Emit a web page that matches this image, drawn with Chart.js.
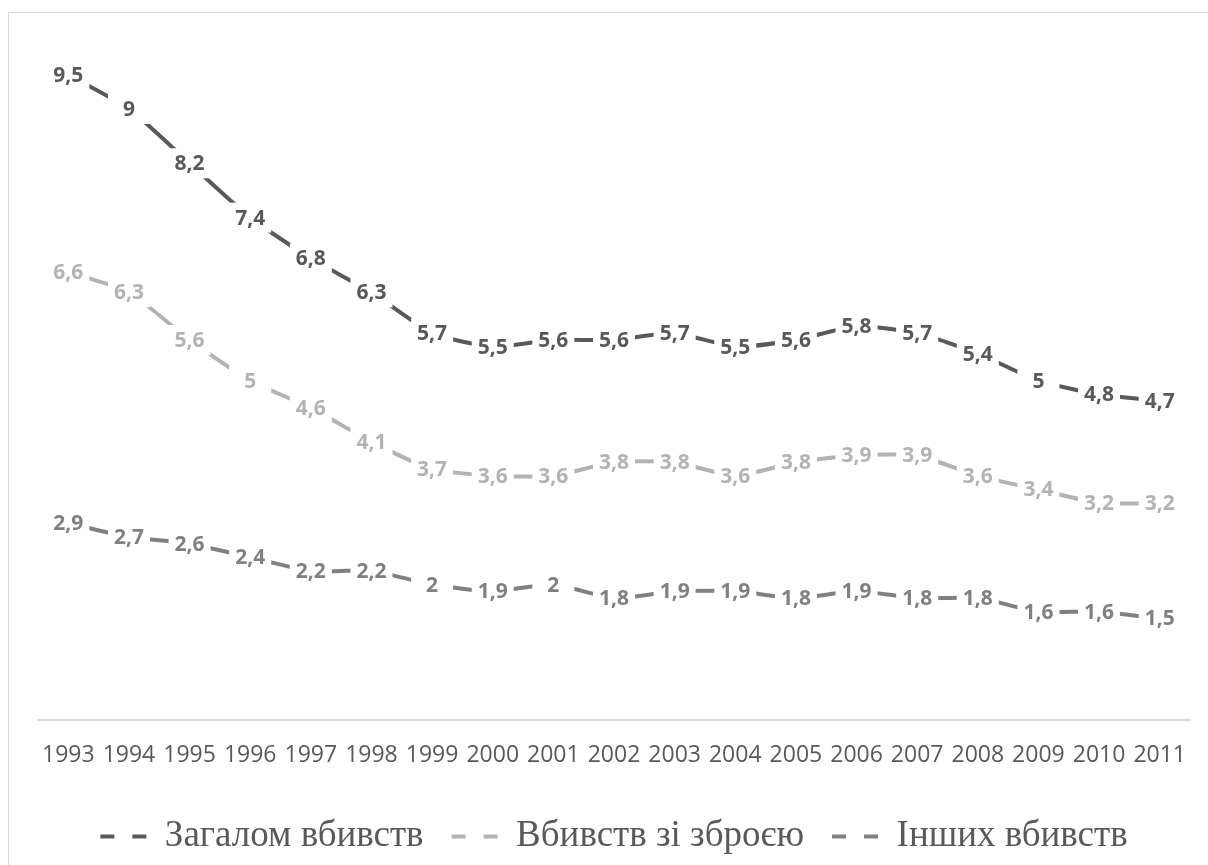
<!DOCTYPE html>
<html>
<head>
<meta charset="utf-8">
<script src="https://cdn.jsdelivr.net/npm/chart.js@4/dist/chart.umd.min.js"></script>
<style>
  html, body { margin: 0; padding: 0; background: #fff; overflow: hidden; }
  #wrap { position: absolute; left: 0; top: 0; width: 1208px; height: 865px; }
  #frame { position: absolute; left: 8px; top: 12px; width: 1300px; height: 1000px; border: 1px solid #d9d9d9; box-sizing: border-box; }
  canvas { position: absolute; left: 0; top: 0; }
</style>
</head>
<body>
<div id="wrap">
  <div id="frame"></div>
  <canvas id="c" width="1208" height="865"></canvas>
</div>
<script>
const years = ['1993','1994','1995','1996','1997','1998','1999','2000','2001','2002','2003','2004','2005','2006','2007','2008','2009','2010','2011'];
const totalKillings = [9.5, 9, 8.2, 7.4, 6.8, 6.3, 5.7, 5.5, 5.6, 5.6, 5.7, 5.5, 5.6, 5.8, 5.7, 5.4, 5, 4.8, 4.7];
const firearmKillings = [6.6, 6.3, 5.6, 5, 4.6, 4.1, 3.7, 3.6, 3.6, 3.8, 3.8, 3.6, 3.8, 3.9, 3.9, 3.6, 3.4, 3.2, 3.2];
const otherKillings = [2.9, 2.7, 2.6, 2.4, 2.2, 2.2, 2, 1.9, 2, 1.8, 1.9, 1.9, 1.8, 1.9, 1.8, 1.8, 1.6, 1.6, 1.5];
const seriesNames = ['Загалом вбивств', 'Вбивств зі зброєю', 'Інших вбивств'];

const colors = ['#595959', '#b3b3b3', '#808080'];

const labelPlugin = {
  id: 'boxLabels',
  afterDatasetsDraw(chart) {
    const ctx = chart.ctx;
    ctx.save();
    ctx.font = 'bold 21px "Open Sans"';
    ctx.textAlign = 'center';
    ctx.textBaseline = 'middle';
    chart.data.datasets.forEach((ds, i) => {
      const meta = chart.getDatasetMeta(i);
      meta.data.forEach((pt, j) => {
        const x = pt.x, y = pt.y;
        ctx.fillStyle = '#ffffff';
        ctx.fillRect(x - 21, y - 15, 42, 30);
        ctx.fillStyle = colors[i];
        ctx.fillText(String(ds.data[j]).replace('.', ','), x, y + 1);
      });
    });
    ctx.restore();
  }
};

const mk = (label, data, color) => ({
  label, data,
  borderColor: color,
  backgroundColor: color,
  borderWidth: 4,
  pointRadius: 0,
  tension: 0.2,
  fill: false
});

new Chart(document.getElementById('c'), {
  type: 'line',
  data: {
    labels: years,
    datasets: [
      mk(seriesNames[0], totalKillings, colors[0]),
      mk(seriesNames[1], firearmKillings, colors[1]),
      mk(seriesNames[2], otherKillings, colors[2])
    ]
  },
  options: {
    responsive: false,
    animation: false,
    events: [],
    layout: { padding: { left: 38, right: 18, top: 41, bottom: 0 } },
    scales: {
      x: {
        offset: true,
        grid: { display: false, drawTicks: false },
        border: { display: true, color: '#d9d9d9', width: 2 },
        ticks: { color: '#595959', font: { family: '"Open Sans"', size: 23 }, padding: 21, maxRotation: 0, autoSkip: false }
      },
      y: { display: false, min: 0, max: 10 }
    },
    plugins: {
      legend: {
        position: 'bottom',
        labels: {
          usePointStyle: true,
          pointStyle: 'line',
          pointStyleWidth: 46,
          padding: 28,
          color: '#595959',
          font: { family: '"Liberation Serif"', size: 37 },
          generateLabels(chart) {
            return chart.data.datasets.map((ds, i) => ({
              text: ds.label,
              fillStyle: colors[i],
              strokeStyle: colors[i],
              lineWidth: 4,
              lineDash: [14, 18],
              pointStyle: 'line',
              fontColor: '#595959',
              datasetIndex: i,
              hidden: false
            }));
          }
        }
      },
      tooltip: { enabled: false }
    }
  },
  plugins: [labelPlugin]
});
</script>
</body>
</html>
